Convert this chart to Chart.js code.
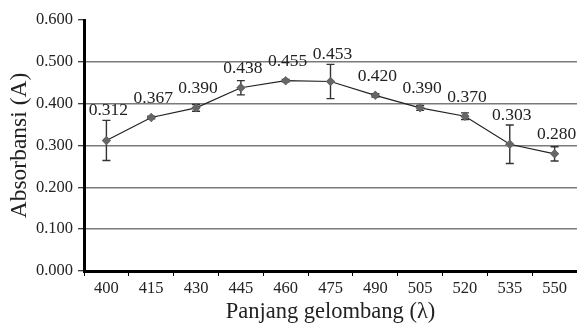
<!DOCTYPE html>
<html>
<head>
<meta charset="utf-8">
<script src="https://cdn.jsdelivr.net/npm/chart.js@4/dist/chart.umd.min.js"></script>
<style>
  html, body { margin: 0; padding: 0; background: #fff; }
  #wrap { width: 577px; height: 326px; }
</style>
</head>
<body>
<div id="wrap"><canvas id="c" width="577" height="326"></canvas></div>
<script>
const wavelengths = ['400','415','430','445','460','475','490','505','520','535','550'];
const absorbance = [0.312, 0.367, 0.390, 0.438, 0.455, 0.453, 0.420, 0.390, 0.370, 0.303, 0.280];
const errors = [0.048, 0.003, 0.008, 0.017, 0.003, 0.041, 0.004, 0.006, 0.008, 0.046, 0.017];
const yTicks = [0, 0.1, 0.2, 0.3, 0.4, 0.5, 0.6];
const xTitle = 'Panjang gelombang (λ)';
const yTitle = 'Absorbansi (A)';

const FONT = "'Liberation Serif', 'Times New Roman', serif";

const errorBarPlugin = {
  id: 'errorBars',
  afterDatasetsDraw(chart) {
    const ctx = chart.ctx;
    const xs = chart.scales.x, ys = chart.scales.y;
    ctx.save();
    ctx.strokeStyle = '#333';
    ctx.lineWidth = 1.4;
    absorbance.forEach((v, i) => {
      const x = xs.getPixelForValue(i);
      const yt = ys.getPixelForValue(v + errors[i]);
      const yb = ys.getPixelForValue(v - errors[i]);
      ctx.beginPath();
      ctx.moveTo(x, yt); ctx.lineTo(x, yb);
      ctx.moveTo(x - 4, yt); ctx.lineTo(x + 4, yt);
      ctx.moveTo(x - 4, yb); ctx.lineTo(x + 4, yb);
      ctx.stroke();
    });
    const meta = chart.getDatasetMeta(0);
    meta.data.forEach(p => p.draw(ctx, chart.chartArea));
    ctx.fillStyle = '#222';
    ctx.font = '17.5px ' + FONT;
    ctx.textAlign = 'center';
    ctx.textBaseline = 'middle';
    absorbance.forEach((v, i) => {
      const x = xs.getPixelForValue(i);
      const y = ys.getPixelForValue(v);
      const errPx = y - ys.getPixelForValue(v + errors[i]);
      const off = Math.max(19, errPx + 10);
      ctx.fillText(v.toFixed(3), x + 2, y - off);
    });
    ctx.restore();
  }
};

new Chart(document.getElementById('c'), {
  type: 'line',
  data: {
    labels: wavelengths,
    datasets: [{
      data: absorbance,
      borderColor: '#222',
      borderWidth: 1.2,
      pointStyle: 'rectRot',
      pointRadius: 4.5,
      pointBackgroundColor: '#666',
      pointBorderColor: '#666',
      pointBorderWidth: 0,
      tension: 0,
      fill: false,
      clip: false
    }]
  },
  options: {
    responsive: false,
    animation: false,
    devicePixelRatio: 1,
    layout: { autoPadding: false, padding: { top: 20, right: 0, bottom: 0, left: 0 } },
    plugins: { legend: { display: false }, tooltip: { enabled: false } },
    scales: {
      x: {
        type: 'category',
        offset: true,
        grid: {
          offset: true,
          drawOnChartArea: false,
          drawTicks: true,
          tickLength: 5,
          tickColor: '#000',
          tickWidth: 1
        },
        border: { display: true, color: '#000', width: 3 },
        ticks: {
          color: '#222',
          font: { family: FONT, size: 16.5 },
          padding: 3,
          maxRotation: 0
        },
        title: {
          display: true,
          text: xTitle,
          color: '#222',
          font: { family: FONT, size: 22.5 },
          padding: { top: 0, bottom: 0 }
        },
        afterFit(scale) { scale.height = 55; scale.paddingRight = 0; scale.paddingLeft = 0; }
      },
      y: {
        min: 0,
        max: 0.6,
        afterBuildTicks(scale) { scale.ticks = yTicks.map(v => ({ value: v })); },
        grid: {
          color: ctx => (ctx.tick && (ctx.tick.value === 0 || ctx.tick.value === 0.6)) ? 'rgba(0,0,0,0)' : '#7a7a7a',
          lineWidth: 1.5,
          drawTicks: true,
          tickLength: 6,
          tickColor: '#000',
          tickWidth: 1
        },
        border: { display: true, color: '#000', width: 3 },
        ticks: {
          color: '#222',
          font: { family: FONT, size: 16.5 },
          padding: 5,
          callback: v => Number(v).toFixed(3)
        },
        title: {
          display: true,
          text: yTitle,
          color: '#222',
          font: { family: FONT, size: 23.5 },
          padding: { top: 6, bottom: 0 }
        },
        afterFit(scale) { scale.width = 84; scale.paddingTop = 0; }
      }
    }
  },
  plugins: [errorBarPlugin]
});
</script>
</body>
</html>
